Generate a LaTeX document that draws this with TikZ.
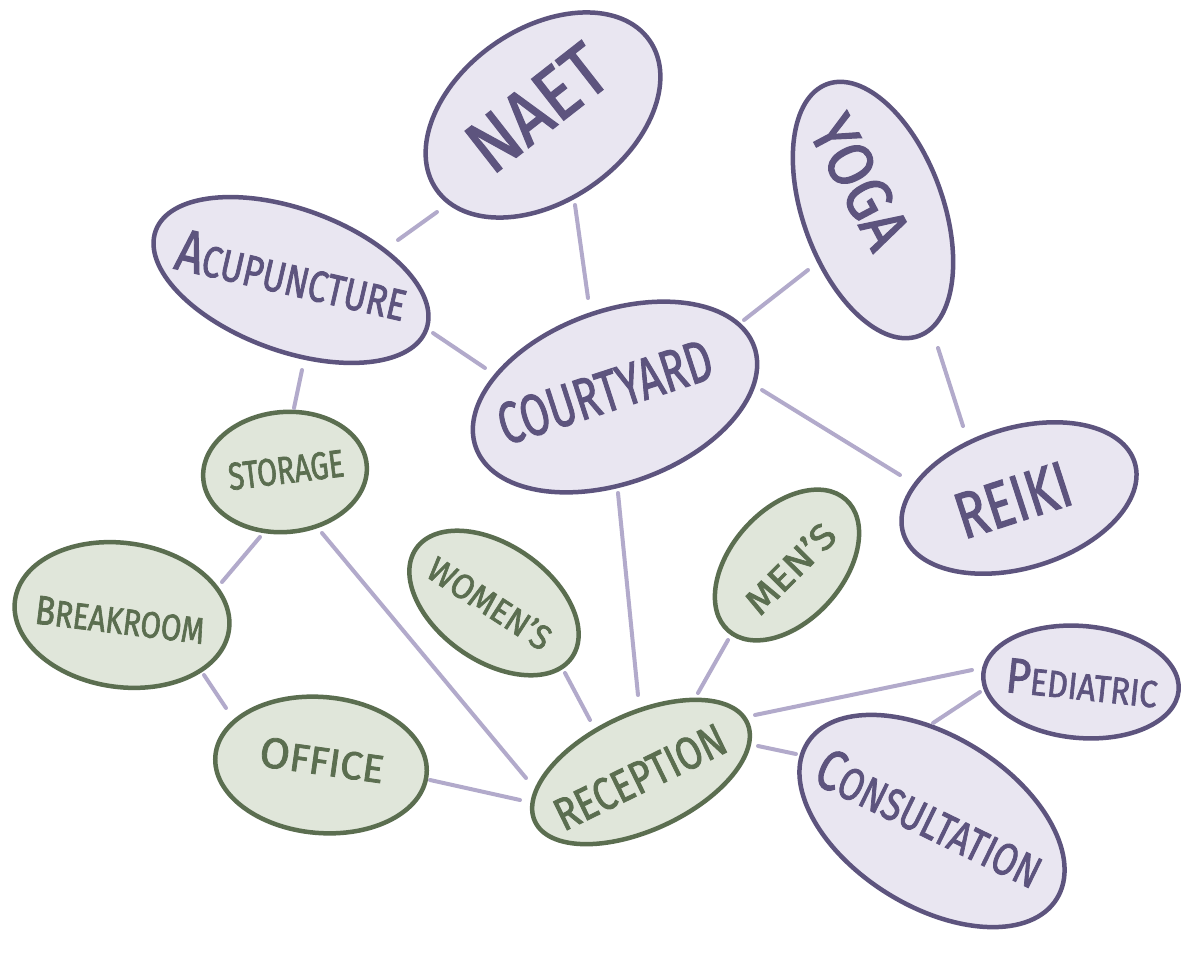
\documentclass[tikz,border=0pt]{standalone}
\usepackage{fontspec}
\setmainfont{Fira Sans}[FakeBold=2]
\usepackage{graphicx}
\usetikzlibrary{shapes.geometric,calc}
\definecolor{pstroke}{HTML}{5D547E}
\definecolor{pfill}{HTML}{E9E6F1}
\definecolor{gstroke}{HTML}{5B6E50}
\definecolor{gfill}{HTML}{E0E6DA}
\definecolor{conncol}{HTML}{B2AACB}
% \lbl{font size}{width}{height}{text}
\newcommand\lbl[4]{\resizebox{#2pt}{#3pt}{\fontsize{#1}{#1}\selectfont #4}}
\newcommand\fs[2]{{\fontsize{#1}{#1}\selectfont #2}}
\begin{document}
\begin{tikzpicture}[x=1pt,y=-1pt,
  pell/.style={ellipse, draw=pstroke, fill=pfill, line width=4.5pt, inner sep=0pt},
  gell/.style={ellipse, draw=gstroke, fill=gfill, line width=4.5pt, inner sep=0pt},
  ptxt/.style={text=pstroke, inner sep=0pt},
  gtxt/.style={text=gstroke, inner sep=0pt},
  conn/.style={draw=conncol, line width=4pt, line cap=round}]
\fill[white] (0,0) rectangle (1203,953);
\useasboundingbox (0,0) rectangle (1203,953);

% ellipses
\node[pell, minimum width=260pt, minimum height=172pt, rotate=35] (naet) at (543,115) {};
\node[pell, minimum width=140pt, minimum height=268pt, rotate=20] (yoga) at (873,210) {};
\node[pell, minimum width=288pt, minimum height=142pt, rotate=-20] (acup) at (291,280) {};
\node[pell, minimum width=296pt, minimum height=172pt, rotate=20] (court) at (615,397) {};
\node[pell, minimum width=242pt, minimum height=140pt, rotate=17] (reiki) at (1019,498) {};
\node[gell, minimum width=164pt, minimum height=120pt, rotate=5] (stor) at (285,472) {};
\node[gell, minimum width=216pt, minimum height=144pt, rotate=-8] (break) at (122,615) {};
\node[gell, minimum width=190pt, minimum height=116pt, rotate=-35] (women) at (494,603) {};
\node[gell, minimum width=176pt, minimum height=112pt, rotate=48] (men) at (787,565) {};
\node[gell, minimum width=212pt, minimum height=136pt, rotate=-5] (office) at (321,765) {};
\node[gell, minimum width=234pt, minimum height=116pt, rotate=25] (recep) at (641,772) {};
\node[pell, minimum width=196pt, minimum height=112pt, rotate=-5] (pedi) at (1081,682) {};
\node[pell, minimum width=294pt, minimum height=170pt, rotate=-32] (consult) at (932,821) {};

% labels
\node[ptxt, rotate=38] (naetl) at (537,108) {\lbl{76}{155}{52}{NAET}};
\node[ptxt, rotate=-62] (yogal) at (860,182) {\lbl{65}{140}{45}{YOGA}};
\node[ptxt, rotate=-13] (acupl) at (292,275) {\lbl{44}{235}{41}{\fs{60}{A}CUPUNCTURE}};
\node[ptxt, rotate=18] (courtl) at (605,392) {\lbl{60}{222}{41}{COURTYARD}};
\node[ptxt, rotate=18] (reikil) at (1013,500) {\lbl{66}{118}{45}{REIKI}};
\node[gtxt, rotate=7] (storl) at (286,470) {\lbl{40}{116}{27}{STORAGE}};
\node[gtxt, rotate=-7] (breakl) at (120,620) {\lbl{38}{170}{28}{\fs{42}{B}REAKROOM}};
\node[gtxt, rotate=-33] (womenl) at (490,603) {\lbl{38}{140}{26}{WOMEN'S}};
\node[gtxt, rotate=45] (menl) at (790,568) {\lbl{40}{112}{27}{MEN'S}};
\node[gtxt, rotate=-8] (officel) at (322,760) {\lbl{42}{125}{30}{\fs{46}{O}FFICE}};
\node[gtxt, rotate=26] (recepl) at (640,777) {\lbl{46}{185}{32}{RECEPTION}};
\node[ptxt, rotate=-6] (pedil) at (1082,683) {\lbl{38}{152}{34}{\fs{50}{P}EDIATRIC}};
\node[ptxt, rotate=-26] (consultl) at (930,818) {\lbl{46}{245}{40}{\fs{58}{C}ONSULTATION}};

% connectors
\draw[conn] ($(naet)+(-106,97)$) -- ($(acup)+(107,-40)$);
\draw[conn] ($(naet)+(32,90)$) -- ($(court)+(-27,-99)$);
\draw[conn] ($(acup)+(142,53)$) -- ($(court)+(-130,-29)$);
\draw[conn] ($(acup)+(11,90)$) -- ($(stor)+(9,-64)$);
\draw[conn] ($(yoga)+(-65,60)$) -- ($(court)+(129,-77)$);
\draw[conn] ($(yoga)+(65,138)$) -- ($(reiki)+(-56,-72)$);
\draw[conn] ($(court)+(147,-7)$) -- ($(reiki)+(-119,-23)$);
\draw[conn] ($(court)+(3,96)$) -- ($(recep)+(-3,-77)$);
\draw[conn] ($(stor)+(-25,65)$) -- ($(break)+(100,-33)$);
\draw[conn] ($(stor)+(37,61)$) -- ($(recep)+(-115,6)$);
\draw[conn] ($(break)+(82,60)$) -- ($(office)+(-95,-57)$);
\draw[conn] ($(women)+(71,70)$) -- ($(recep)+(-51,-52)$);
\draw[conn] ($(men)+(-59,75)$) -- ($(recep)+(57,-79)$);
\draw[conn] ($(office)+(109,15)$) -- ($(recep)+(-121,28)$);
\draw[conn] ($(recep)+(114,-57)$) -- ($(pedi)+(-109,-12)$);
\draw[conn] ($(recep)+(117,-26)$) -- ($(consult)+(-136,-67)$);
\draw[conn] ($(pedi)+(-101,10)$) -- ($(consult)+(1,-98)$);
\end{tikzpicture}
\end{document}
